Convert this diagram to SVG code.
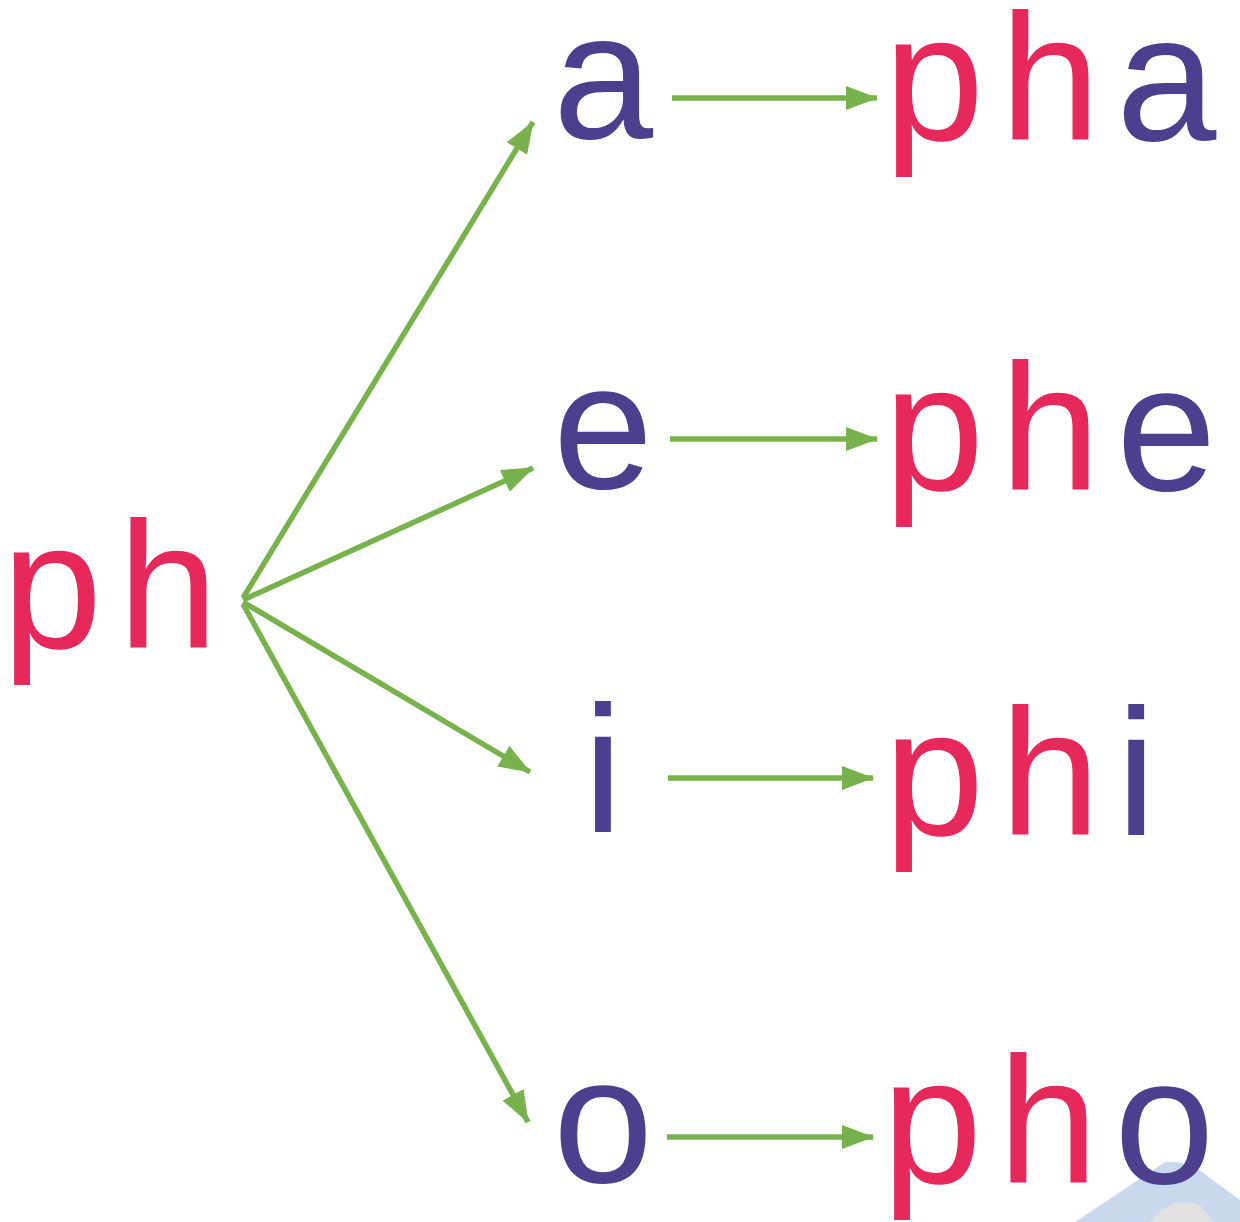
<svg xmlns="http://www.w3.org/2000/svg" width="1240" height="1222" viewBox="0 0 1240 1222">
<defs>
<style>
.t{font-family:"Liberation Sans","DejaVu Sans",sans-serif;font-size:180px}
.w{letter-spacing:16px}
.r{fill:#e6285a}
.v{fill:#4b3f8e}
.c{stroke:#77b24c;stroke-width:5.5;fill:none;marker-end:url(#ah)}
</style>
<marker id="ah" viewBox="0 0 32 24" refX="31" refY="12" markerWidth="32" markerHeight="24" markerUnits="userSpaceOnUse" orient="auto">
<path d="M0,0 L32,12 L0,24 Z" fill="#77b24c"/>
</marker>
</defs>
<rect width="1240" height="1222" fill="#ffffff"/>
<path d="M1075,1222 L1165,1162 Q1190,1160 1210,1178 L1240,1200 L1240,1222 Z" fill="#c9d8ec"/>
<path d="M1150,1222 Q1170,1195 1200,1205 L1215,1222 Z" fill="#dfe1e3"/>
<g id="connectors">
<path class="c" d="M243,598 L533,122"/>
<path class="c" d="M243,600 L533,468"/>
<path class="c" d="M243,602 L530,772"/>
<path class="c" d="M243,604 L528,1122"/>
<path class="c" d="M672,98 L877,98"/>
<path class="c" d="M670,439 L877,439"/>
<path class="c" d="M668,778 L873,778"/>
<path class="c" d="M667,1137 L873,1137"/>
</g>
<g id="node-ph"><text class="t w r" x="2" y="648">ph</text></g>
<g id="node-a"><text class="t v" x="603" y="138" text-anchor="middle">a</text></g>
<g id="node-e"><text class="t v" x="603" y="488" text-anchor="middle">e</text></g>
<g id="node-i"><text class="t v" x="603" y="832" text-anchor="middle">i</text></g>
<g id="node-o"><text class="t v" x="603" y="1182" text-anchor="middle">o</text></g>
<g id="node-pha"><text class="t w" x="884" y="140"><tspan class="r">ph</tspan><tspan class="v">a</tspan></text></g>
<g id="node-phe"><text class="t w" x="884" y="490"><tspan class="r">ph</tspan><tspan class="v">e</tspan></text></g>
<g id="node-phi"><text class="t w" x="884" y="835"><tspan class="r">ph</tspan><tspan class="v">i</tspan></text></g>
<g id="node-pho"><text class="t w" x="882" y="1183"><tspan class="r">ph</tspan><tspan class="v">o</tspan></text></g>
</svg>
